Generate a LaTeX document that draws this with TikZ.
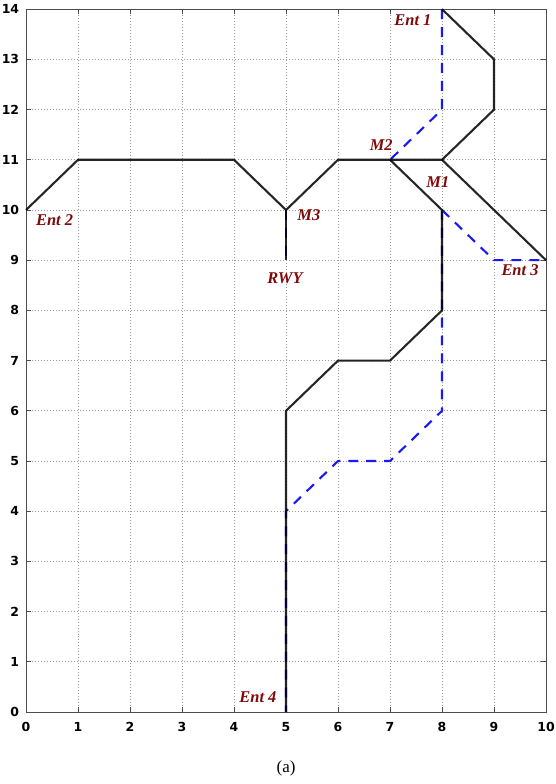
\documentclass[tikz,border=0pt]{standalone}
\usepackage{fontspec}
\setmainfont{Liberation Serif}
\newfontfamily\tickfont{DejaVu Sans}
\usetikzlibrary{positioning}
\definecolor{labred}{RGB}{128,10,10}
\definecolor{routeblue}{RGB}{25,25,245}

\begin{document}
\begin{tikzpicture}[x=1.8345cm,y=1.771cm,
  lbl/.style={text=labred,font=\fontsize{16.5}{16.5}\selectfont\bfseries\itshape,inner sep=1pt},
  ticklbl/.style={font=\tickfont\bfseries\fontsize{12.5}{12.5}\selectfont,inner sep=1pt},
  road/.style={black,line width=2.1pt,draw opacity=.85},
  route/.style={routeblue,line width=2.1pt,dash pattern=on 10pt off 8pt}]
\useasboundingbox (-0.5,-1.434) rectangle (10.192,14.183);
% grid and frame
\draw[gray!80,line width=.7pt,dash pattern=on .8pt off 2.2pt,step=1] (0,0) grid (10,14);
\foreach \i in {0,...,10} {
  \draw[gray!60!black,line width=.9pt] (\i,0) -- ++(0,.1) (\i,14) -- ++(0,-.1);
  \node[ticklbl] (xt\i) at (\i,-.3) {\i};
}
\foreach \j in {0,...,14} {
  \draw[gray!60!black,line width=.9pt] (0,\j) -- ++(.1,0) (10,\j) -- ++(-.1,0);
  \node[ticklbl,anchor=east] (yt\j) at (-.11,\j) {\j};
}
\draw[gray!60!black,line width=.9pt] (0,0) rectangle (10,14);
% junctions
\coordinate (e1) at (8,14);
\coordinate (e2) at (0,10);
\coordinate (e3) at (10,9);
\coordinate (e4) at (5,0);
\coordinate (m1) at (8,11);
\coordinate (m2) at (7,11);
\coordinate (m3) at (5,10);
\coordinate (rwy) at (5,9);
% blue route
\draw[route] (e1) -- (8,12) -- (m2);
\draw[route] (m3) -- (rwy);
\draw[route] (8,10) -- (9,9) -- (e3);
\draw[route] (8,10) -- (8,6) -- (7,5) -- (6,5) -- (5,4) -- (e4);
% taxiways
\draw[road] (e2) -- (1,11) -- (4,11) -- (m3) -- (6,11) -- (m2) -- (m1) -- (9,12) -- (9,13) -- (e1);
\draw[road] (m3) -- (rwy);
\draw[road] (m1) -- (e3);
\draw[road] (m2) -- (8,10) -- (8,8) -- (7,7) -- (6,7) -- (5,6) -- (e4);
% labels
\node[lbl] (lent1) at (7.44,13.78) {Ent 1};
\node[lbl] (lent2) at (0.55,9.8) {Ent 2};
\node[lbl] (lent3) at (9.5,8.8) {Ent 3};
\node[lbl] (lent4) at (4.46,0.3) {Ent 4};
\node[lbl] (lm1) at (7.92,10.56) {M1};
\node[lbl] (lm2) at (6.83,11.29) {M2};
\node[lbl] (lm3) at (5.44,9.9) {M3};
\node[lbl] (lrwy) at (4.98,8.65) {RWY};
\node[font=\fontsize{17}{17}\selectfont] (cap) at (5,-1.12) {(a)};
\end{tikzpicture}
\end{document}
